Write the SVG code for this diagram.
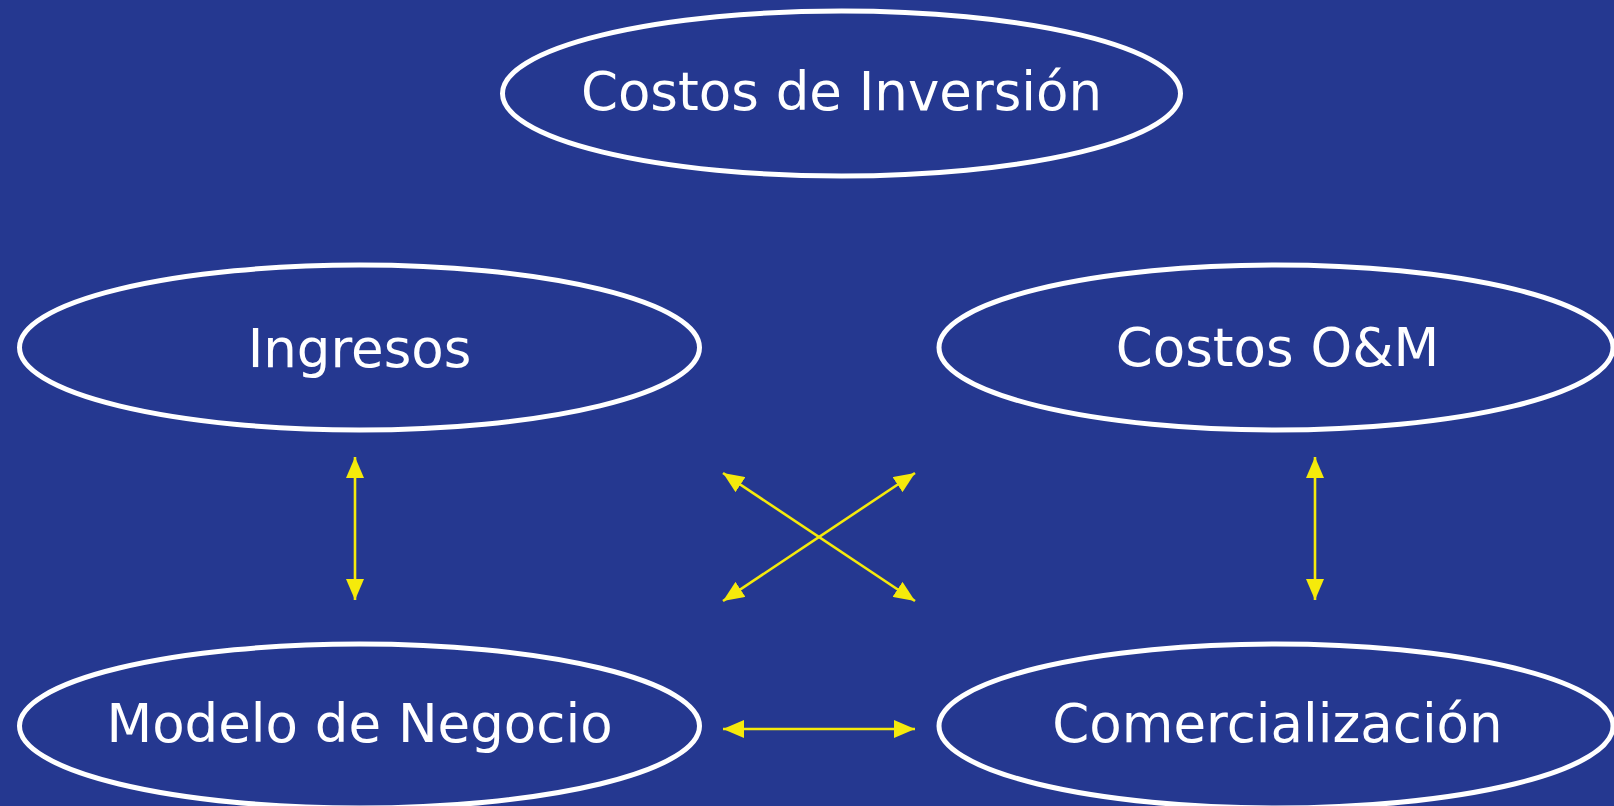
<svg xmlns="http://www.w3.org/2000/svg" width="1614" height="806" viewBox="0 0 1614 806">
<style>
.node ellipse{fill:none;stroke:#ffffff;stroke-width:5}
.node text{fill:#ffffff;font-family:"DejaVu Sans","Verdana",sans-serif;font-size:53px;text-anchor:middle}
.conn line{stroke:#F5EA0B;stroke-width:2.6;fill:none}
</style>
<defs>
<marker id="ah" viewBox="0 0 21 18" refX="21" refY="9" markerWidth="21" markerHeight="18" markerUnits="userSpaceOnUse" orient="auto-start-reverse">
<path d="M0,0 L21,9 L0,18 Z" fill="#F5EA0B"/>
</marker>
</defs>
<rect x="0" y="0" width="1614" height="806" fill="#253890"/>
<g id="node-costos-inversion" class="node">
<ellipse cx="841.5" cy="93.5" rx="339" ry="82.5"/>
<text x="841.5" y="110">Costos de Inversión</text>
</g>
<g id="node-ingresos" class="node">
<ellipse cx="359.5" cy="347.5" rx="340" ry="82.5"/>
<text x="359.5" y="366.5">Ingresos</text>
</g>
<g id="node-costos-om" class="node">
<ellipse cx="1276" cy="347.5" rx="337" ry="82.5"/>
<text x="1277.5" y="366">Costos O&amp;M</text>
</g>
<g id="node-modelo" class="node">
<ellipse cx="359.5" cy="726" rx="340" ry="82"/>
<text x="359.5" y="742">Modelo de Negocio</text>
</g>
<g id="node-comercializacion" class="node">
<ellipse cx="1276" cy="726" rx="337" ry="82"/>
<text x="1277.5" y="742">Comercialización</text>
</g>
<g id="connectors" class="conn">
<line x1="355" y1="457" x2="355" y2="600" marker-start="url(#ah)" marker-end="url(#ah)"/>
<line x1="1315" y1="457" x2="1315" y2="600" marker-start="url(#ah)" marker-end="url(#ah)"/>
<line x1="723" y1="729" x2="915" y2="729" marker-start="url(#ah)" marker-end="url(#ah)"/>
<line x1="723" y1="473" x2="915" y2="601" marker-start="url(#ah)" marker-end="url(#ah)"/>
<line x1="915" y1="473" x2="723" y2="601" marker-start="url(#ah)" marker-end="url(#ah)"/>
</g>
</svg>
